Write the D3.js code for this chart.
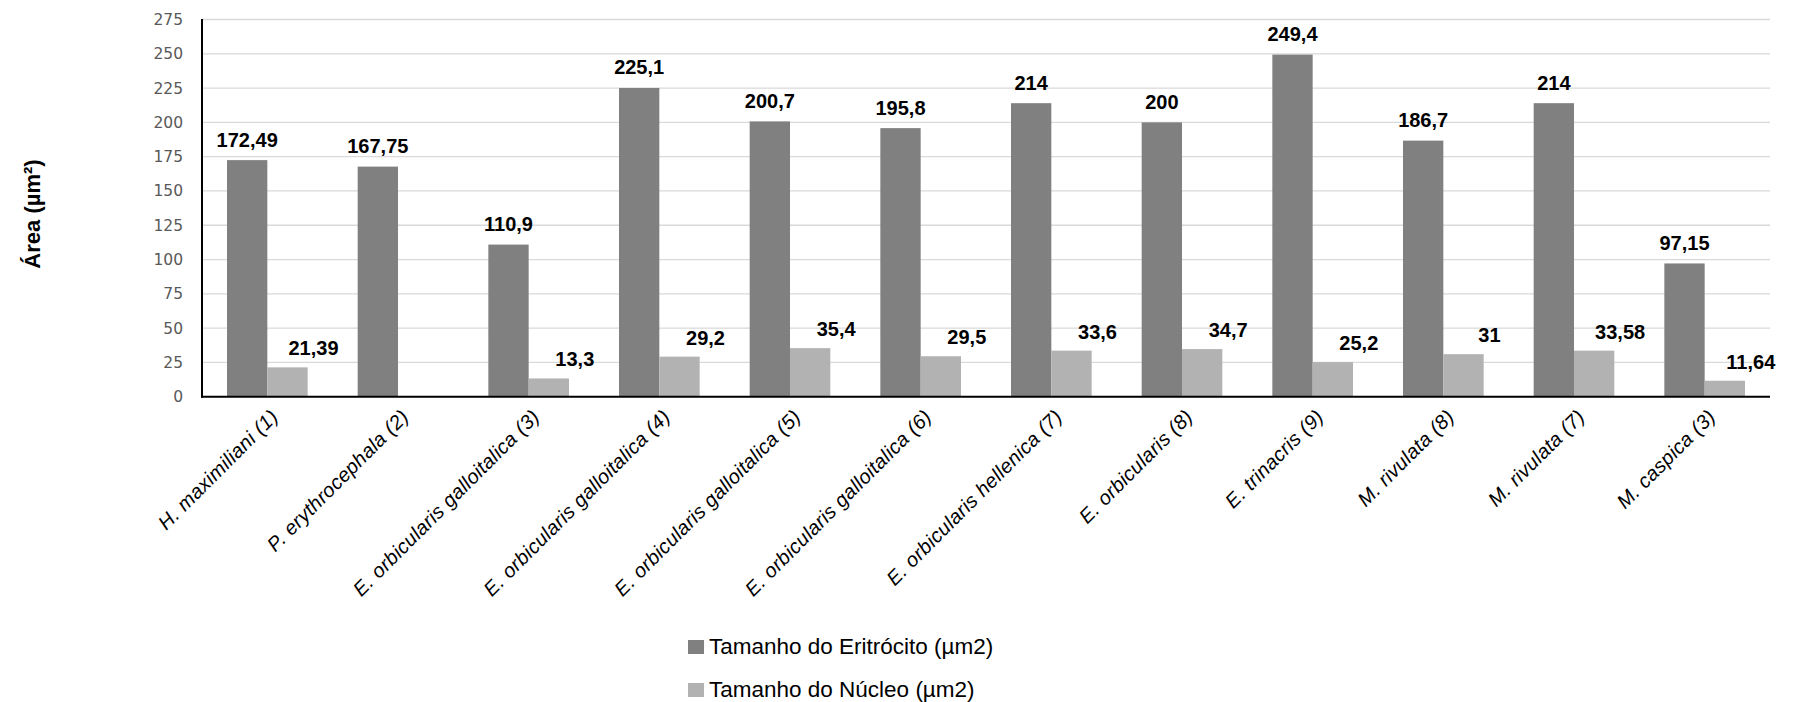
<!DOCTYPE html>
<html>
<head>
<meta charset="utf-8">
<script src="https://cdn.jsdelivr.net/npm/d3@7"></script>
<style>
  body { margin: 0; background: #fff; }
  svg { display: block; }
</style>
</head>
<body>
<script>
////////////////////////////////////////////DATA////////////////////////////////////////////////
var categories = [
    "H. maximiliani (1)",
    "P. erythrocephala (2)",
    "E. orbicularis galloitalica (3)",
    "E. orbicularis galloitalica (4)",
    "E. orbicularis galloitalica (5)",
    "E. orbicularis galloitalica (6)",
    "E. orbicularis hellenica (7)",
    "E. orbicularis (8)",
    "E. trinacris (9)",
    "M. rivulata (8)",
    "M. rivulata (7)",
    "M. caspica (3)"
];
var eritrocito = [172.49, 167.75, 110.9, 225.1, 200.7, 195.8, 214, 200, 249.4, 186.7, 214, 97.15];
var nucleo = [21.39, null, 13.3, 29.2, 35.4, 29.5, 33.6, 34.7, 25.2, 31, 33.58, 11.64];
var seriesNames = ["Tamanho do Eritrócito (µm2)", "Tamanho do Núcleo (µm2)"];
var yTicks = [0, 25, 50, 75, 100, 125, 150, 175, 200, 225, 250, 275];
var yTitle = "Área (µm²)";

////////////////////////////////////////////SETUP///////////////////////////////////////////////
var width = 1801,
    height = 702,
    plotLeft = 202,
    plotRight = 1770,
    plotTop = 19.5,
    plotBottom = 396.7,
    colors = ["#808080", "#b2b2b2"];

var svg = d3.select("body").append("svg")
    .attr("width", width)
    .attr("height", height);

var x = d3.scaleBand()
    .domain(categories)
    .range([plotLeft, plotRight])
    .padding(0);

var xSeries = d3.scaleBand()
    .domain([0, 1])
    .range([0, x.bandwidth()])
    .paddingInner(0)
    .paddingOuter(0.62);

var y = d3.scaleLinear()
    .domain([0, 275])
    .range([plotBottom, plotTop]);

function fmt(v) { return String(v).replace(".", ","); }

// rows: one per category, each with both series
var rows = categories.map(function (c, i) {
    return { cat: c, vals: [eritrocito[i], nucleo[i]] };
});

////////////////////////////////////////////GRID + AXES//////////////////////////////////////////
svg.append("g")
    .selectAll("line")
    .data(yTicks.slice(1))
    .enter()
    .append("line")
    .attr("x1", plotLeft)
    .attr("x2", plotRight)
    .attr("y1", function (d) { return y(d); })
    .attr("y2", function (d) { return y(d); })
    .attr("stroke", "#d9d9d9")
    .attr("stroke-width", 1.3);

var yAxis = svg.append("g")
    .attr("transform", "translate(" + plotLeft + ",0)")
    .call(d3.axisLeft(y).tickValues(yTicks).tickSize(0).tickPadding(19));
yAxis.select(".domain").remove();
yAxis.selectAll("text")
    .attr("font-family", "DejaVu Sans, sans-serif")
    .attr("font-size", "15.5px")
    .attr("fill", "#595959");

svg.append("text")
    .attr("transform", "translate(40,214) rotate(-90)")
    .attr("text-anchor", "middle")
    .attr("font-family", "Liberation Sans, Arial, sans-serif")
    .attr("font-weight", "bold")
    .attr("font-size", "22px")
    .attr("fill", "#000")
    .text(yTitle);

////////////////////////////////////////////BARS////////////////////////////////////////////////
var groups = svg.selectAll(".grp")
    .data(rows)
    .enter()
    .append("g")
    .attr("class", "grp")
    .attr("transform", function (d) { return "translate(" + x(d.cat) + ",0)"; });

var cells = groups.selectAll("rect")
    .data(function (d) {
        return d.vals.map(function (v, k) { return { k: k, v: v }; })
            .filter(function (e) { return e.v != null; });
    })
    .enter();

cells.append("rect")
    .attr("x", function (d) { return xSeries(d.k); })
    .attr("width", xSeries.bandwidth())
    .attr("y", function (d) { return y(d.v); })
    .attr("height", function (d) { return plotBottom - y(d.v); })
    .attr("fill", function (d) { return colors[d.k]; });

// value labels, nucleus ones sit off to the right like in the source
cells.append("text")
    .attr("x", function (d) {
        var cx = xSeries(d.k) + xSeries.bandwidth() / 2;
        return d.k == 0 ? cx : cx + 26;
    })
    .attr("y", function (d) { return y(d.v) - (d.k == 0 ? 13.5 : 12); })
    .attr("text-anchor", "middle")
    .attr("font-family", "Liberation Sans, Arial, sans-serif")
    .attr("font-weight", "bold")
    .attr("font-size", "20px")
    .attr("fill", "#000")
    .text(function (d) { return fmt(d.v); });

// axis lines drawn on top of bars
svg.append("line")
    .attr("x1", plotLeft).attr("x2", plotLeft)
    .attr("y1", plotTop - 0.5).attr("y2", plotBottom + 1)
    .attr("stroke", "#000").attr("stroke-width", 2);
svg.append("line")
    .attr("x1", plotLeft - 1).attr("x2", plotRight)
    .attr("y1", plotBottom).attr("y2", plotBottom)
    .attr("stroke", "#000").attr("stroke-width", 2);

////////////////////////////////////////////CATEGORY LABELS///////////////////////////////////////
svg.append("g")
    .selectAll("text")
    .data(categories)
    .enter()
    .append("text")
    .attr("transform", function (d) {
        var cx = x(d) + x.bandwidth() / 2;
        return "translate(" + (cx + 12) + ",418) rotate(-45)";
    })
    .attr("text-anchor", "end")
    .attr("font-family", "Liberation Sans, Arial, sans-serif")
    .attr("font-style", "italic")
    .attr("font-size", "20px")
    .attr("letter-spacing", "0.3px")
    .attr("fill", "#000")
    .text(function (d) { return d; });

////////////////////////////////////////////LEGEND//////////////////////////////////////////////
var legend = svg.append("g")
    .selectAll("g")
    .data(seriesNames)
    .enter()
    .append("g")
    .attr("transform", function (d, i) { return "translate(688," + (654 + i * 43) + ")"; });

legend.append("rect")
    .attr("x", 0)
    .attr("y", -14)
    .attr("width", 16)
    .attr("height", 14)
    .attr("fill", function (d, i) { return colors[i]; });

legend.append("text")
    .attr("x", 21)
    .attr("y", 0)
    .attr("font-family", "Liberation Sans, Arial, sans-serif")
    .attr("font-size", "22.5px")
    .attr("fill", "#000")
    .text(function (d) { return d; });
</script>
</body>
</html>
